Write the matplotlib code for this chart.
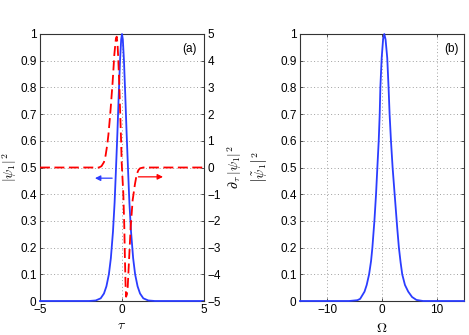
import matplotlib
matplotlib.use('Agg')
import matplotlib.pyplot as plt

plt.rcParams['font.family'] = ['Liberation Sans', 'DejaVu Sans']
plt.rcParams['mathtext.fontset'] = 'cm'

BLUE = '#2b3dff'
RED = '#ff0000'
SPINE = '#333333'
GRID = '#a0a0a0'

# panel (a): pulse intensity |psi_1|^2 vs tau
tau_a = [-5, -2, -1.6, -1.3, -1.1, -0.95, -0.8, -0.68, -0.55, -0.45, -0.37,
         -0.28, -0.2, -0.12, -0.05, 0, 0.05, 0.12, 0.2, 0.28, 0.37, 0.45,
         0.55, 0.68, 0.8, 0.95, 1.1, 1.3, 1.6, 2, 5]
psi_a = [0, 0, 0.002, 0.01, 0.028, 0.055, 0.10, 0.16, 0.26, 0.37, 0.49,
         0.63, 0.77, 0.90, 0.98, 1.0, 0.98, 0.90, 0.77, 0.63, 0.49, 0.37,
         0.26, 0.16, 0.10, 0.055, 0.028, 0.01, 0.002, 0, 0]

# panel (a): derivative d|psi_1|^2/dtau (right axis)
tau_d = [-5, -1.4, -1.25, -1.1, -1.0, -0.9, -0.83, -0.76, -0.69, -0.62,
         -0.57, -0.52, -0.47, -0.41, -0.37, -0.32, -0.27, -0.23, -0.17,
         -0.12, -0.06, -0.02, 0.03, 0.08, 0.14, 0.18, 0.22, 0.25, 0.3, 0.35,
         0.43, 0.53, 0.65, 0.79, 0.9, 1.0, 1.1, 1.3, 5]
dpsi = [0, 0, 0.05, 0.2, 0.45, 0.85, 1.22, 1.7, 2.22, 2.8,
        3.21, 3.7, 4.21, 4.6, 4.84, 4.9, 4.6, 4.09, 3.2,
        2.22, 1.1, 0.2, -0.4, -0.97, -2.22, -3.46, -4.46, -4.84, -4.75, -4.46,
        -3.46, -2.22, -1.22, -0.62, -0.25, -0.1, -0.03, 0, 0]

# panel (b): spectrum vs Omega
omega = [-15, -6, -4.5, -4.0, -3.2, -2.8, -2.36, -2.0, -1.76, -1.39, -1.09,
         -0.85, -0.6, -0.42, -0.3, -0.06, 0.2, 0.42, 0.65, 0.96, 1.2, 1.39,
         1.64, 1.94, 2.2, 2.5, 2.8, 3.09, 3.4, 3.7, 4.2, 4.8, 5.5, 6.3, 7.5, 15]
spec = [0, 0, 0.003, 0.008, 0.035, 0.06, 0.10, 0.15, 0.20, 0.30, 0.40,
        0.50, 0.60, 0.70, 0.80, 0.91, 0.98, 1.0, 0.98, 0.91, 0.80, 0.70,
        0.60, 0.50, 0.43, 0.35, 0.27, 0.20, 0.145, 0.10, 0.06, 0.035, 0.015, 0.004, 0, 0]

yticks = [i / 10 for i in range(11)]
ylabels = ['0'] + ['%.1f' % v for v in yticks[1:-1]] + ['1']

fig = plt.figure(figsize=(4.69, 3.35), dpi=100)
ax1 = fig.add_axes([40 / 469, 34 / 335, 164 / 469, 267 / 335])
ax3 = fig.add_axes([300 / 469, 34 / 335, 164 / 469, 267 / 335])

TICK_FS = 8.5
LABEL_FS = 10


def style(ax):
    for s in ax.spines.values():
        s.set_color(SPINE)
        s.set_linewidth(0.8)
    ax.tick_params(direction='in', length=2.5, width=0.6, color=SPINE,
                   labelsize=TICK_FS, pad=2.5, top=True)
    ax.grid(True, linestyle=(0, (1, 2.5)), color=GRID, linewidth=0.7)
    ax.set_yticks(yticks)
    ax.set_yticklabels(ylabels)
    ax.set_ylim(0, 1)


# ---- panel (a)
style(ax1)
ax1.spines['right'].set_visible(False)
ax1.plot(tau_a, psi_a, color=BLUE, lw=1.3, zorder=3, clip_on=False)
ax1.set_xlim(-5, 5)
ax1.set_xticks([-5, 0, 5])
ax1.set_xlabel(r'$\tau$', fontsize=LABEL_FS)
ax1.xaxis.set_label_coords(0.5, -0.063)
ax1.set_ylabel(r'$|\psi_1|^2$', fontsize=LABEL_FS)
ax1.yaxis.set_label_coords(-0.13, 0.5)

ax2 = ax1.twinx()
for k in ['left', 'top', 'bottom']:
    ax2.spines[k].set_visible(False)
ax2.spines['right'].set_color(SPINE)
ax2.spines['right'].set_linewidth(0.8)
ax2.plot(tau_d, dpsi, color=RED, lw=1.3, dashes=(5.5, 2.5))
ax2.set_ylim(-5, 5)
ax2.set_yticks(range(-5, 6))
ax2.tick_params(direction='in', length=2.5, width=0.6, color=SPINE,
                labelsize=TICK_FS, pad=2.5)
ax2.set_ylabel(r'$\partial_\tau\,|\psi_1|^2$', fontsize=LABEL_FS)
ax2.yaxis.set_label_coords(1.13, 0.5)

ax1.annotate('', xy=(-1.65, 0.46), xytext=(-0.6, 0.46),
             arrowprops=dict(arrowstyle='-|>', color=BLUE, lw=0.9,
                             mutation_scale=8, shrinkA=0, shrinkB=0))
ax1.annotate('', xy=(2.5, 0.465), xytext=(1.0, 0.465),
             arrowprops=dict(arrowstyle='-|>', color=RED, lw=0.9,
                             mutation_scale=8, shrinkA=0, shrinkB=0))
ax1.text(0.955, 0.965, '(a)', transform=ax1.transAxes, ha='right', va='top',
         fontsize=TICK_FS)

# ---- panel (b)
style(ax3)
ax3.tick_params(right=True)
ax3.plot(omega, spec, color=BLUE, lw=1.3, zorder=3, clip_on=False)
ax3.set_xlim(-15, 15)
ax3.set_xticks([-10, 0, 10])
ax3.set_xlabel(r'$\Omega$', fontsize=LABEL_FS)
ax3.xaxis.set_label_coords(0.5, -0.075)
ax3.set_ylabel(r'$\left|\tilde{\psi}_1\right|^2$', fontsize=LABEL_FS)
ax3.yaxis.set_label_coords(-0.19, 0.5)
ax3.text(0.97, 0.965, '(b)', transform=ax3.transAxes, ha='right', va='top',
         fontsize=TICK_FS)

fig.savefig('out.png', dpi=100)
